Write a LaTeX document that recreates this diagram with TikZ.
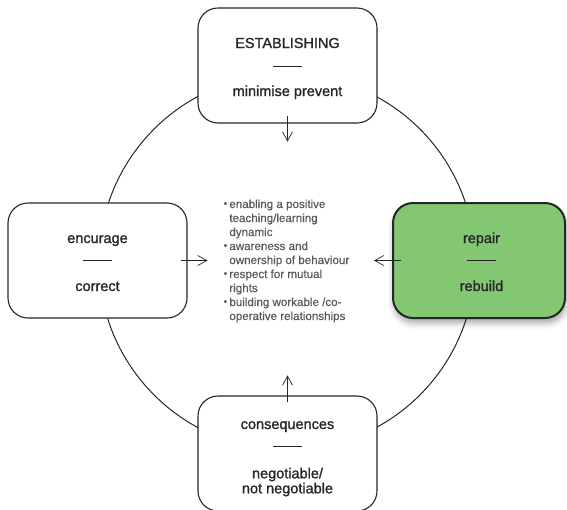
\documentclass[tikz,border=0pt]{standalone}
\usepackage{fontspec}
\setmainfont{Liberation Sans}
\newfontfamily\labelfont[FakeBold=1.2]{Liberation Sans}
\newfontfamily\aimfont[FakeBold=0.5]{Liberation Sans}
\usetikzlibrary{arrows.meta,shadows.blur,calc}
\definecolor{ink}{HTML}{262626}
\definecolor{note}{HTML}{595959}
\definecolor{leaf}{HTML}{84C773}
\newcommand{\aimdot}{\raisebox{1.2pt}{\scalebox{0.85}{\textbullet}}}
\begin{document}
\begin{tikzpicture}[x=1pt,y=-1pt,
  stage/.style={draw=ink, line width=1.1pt, rounded corners=20pt, fill=white,
    minimum width=179pt, minimum height=115pt, inner sep=0pt},
  hilite/.style={stage, fill=leaf, line width=2pt, draw=black!85, minimum width=172pt,
    blur shadow={shadow xshift=1pt, shadow yshift=-5pt, shadow blur radius=6pt, shadow opacity=35}},
  word/.style={font=\labelfont\fontsize{14.5}{17}\selectfont, text=ink, anchor=base, inner sep=0pt},
  rule/.style={draw=ink, line width=0.6pt},
  flow/.style={draw=ink, line width=0.7pt, -{Straight Barb[length=9pt,width=10pt,line width=0.7pt]}},
  ring/.style={circle, draw=ink, line width=1pt, minimum size=376pt, inner sep=0pt}]
\useasboundingbox (0,0) rectangle (567,509);

% the cycle
\node[ring] (cycle) at (287,262) {};

% the four stages
\node[stage]  (est) at (287.5,65.5) {};
\node[stage]  (enc) at (97.5,260.5) {};
\node[hilite] (rep) at (479,260.5) {};
\node[stage]  (con) at (287.5,453.5) {};

% stage labels
\node[word] (estA) at ($(est.center)+(0,-17.5)$) {ESTABLISHING};
\node[word] (estB) at ($(est.center)+(0,30.5)$) {minimise prevent};
\draw[rule] ($(est.center)+(-14.5,0.5)$) -- ++(29,0);

\node[word] (encA) at ($(enc.center)+(0,-17.5)$) {encurage};
\node[word] (encB) at ($(enc.center)+(0,30.5)$) {correct};
\draw[rule] ($(enc.center)+(-14.5,-0.5)$) -- ++(29,0);

\node[word] (repA) at ($(rep.center)+(2.5,-17.5)$) {repair};
\node[word] (repB) at ($(rep.center)+(2.5,30.5)$) {rebuild};
\draw[rule] ($(rep.center)+(-12,-0.5)$) -- ++(29,0);

\node[word] (conA) at ($(con.center)+(0,-24.5)$) {consequences};
\node[word] (conB) at ($(con.center)+(0,24.8)$) {negotiable/};
\node[word] (conC) at ($(con.center)+(0,39.8)$) {not negotiable};
\draw[rule] ($(con.center)+(-14.5,-7.5)$) -- ++(29,0);

% arrows pointing to the centre
\draw[flow] ([yshift=8pt]est.south) -- ([yshift=-18pt]est.south);
\draw[flow] ([xshift=-7pt]enc.east) -- ([xshift=20pt]enc.east);
\draw[flow] ([xshift=9pt]rep.west) -- ([xshift=-18pt]rep.west);
\draw[flow] ([yshift=-7pt]con.north) -- ([yshift=20pt]con.north);

% aims in the middle
\node[anchor=base west, inner sep=0pt, text=note,
      font=\aimfont\fontsize{11.6}{14}\selectfont] (aims) at (223.5,208) {%
  \begin{tabular}[t]{@{}l@{\hspace{2.2pt}}l@{}}
  \aimdot & enabling a positive\\
   & teaching/learning\\
   & dynamic\\
  \aimdot & awareness and\\
   & ownership of behaviour\\
  \aimdot & respect for mutual\\
   & rights\\
  \aimdot & building workable /co-\\
   & operative relationships
  \end{tabular}};
\end{tikzpicture}
\end{document}
